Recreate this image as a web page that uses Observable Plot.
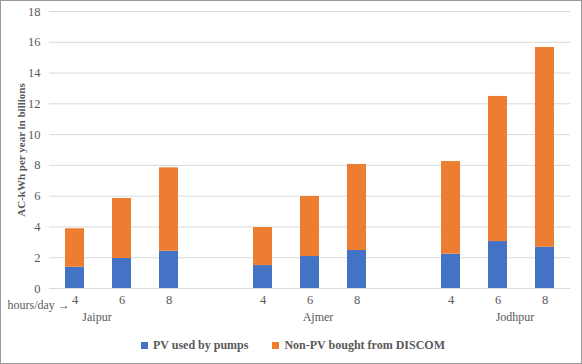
<!DOCTYPE html>
<html>
<head>
<meta charset="utf-8">
<script src="https://cdn.jsdelivr.net/npm/d3@7"></script>
<script src="https://cdn.jsdelivr.net/npm/@observablehq/plot@0.6"></script>
<style>
  html, body { margin: 0; padding: 0; background: #fff; }
  #wrap { position: relative; width: 582px; height: 364px; overflow: hidden; font-family: 'Liberation Serif', 'DejaVu Serif', serif; }
  #wrap svg, #wrap svg text { font-family: 'Liberation Serif', 'DejaVu Serif', serif !important; }
  #chart { position: absolute; left: 0; top: 0; }
  #legend { position: absolute; left: 0; width: 582px; top: 338px; display: flex; justify-content: center; align-items: center; font-size: 12px; font-weight: bold; color: #595959; padding-left: 4px; box-sizing: border-box; }
  #legend .item { display: flex; align-items: center; margin: 0 12px; }
  #legend .sw { width: 7px; height: 7px; margin-right: 5px; }
  #frame { position: absolute; inset: 0; border: 1px solid #9a9a9a; pointer-events: none; }
</style>
</head>
<body>
<div id="wrap">
  <div id="chart"></div>
  <div id="legend"></div>
  <div id="frame"></div>
</div>
<script>
// ---- data ----
const cities = ["Jaipur", "Ajmer", "Jodhpur"];
const hours = [4, 6, 8];
const seriesNames = ["PV used by pumps", "Non-PV bought from DISCOM"];
const seriesColors = ["#4472C4", "#ED7D31"];
// values per city, per hours (4, 6, 8), billions of AC-kWh per year
const pvUsed = [1.38, 1.95, 2.42, 1.49, 2.08, 2.47, 2.23, 3.05, 2.68];
const nonPV  = [2.50, 3.90, 5.42, 2.47, 3.90, 5.59, 6.02, 9.43, 12.98];
const yTicks = [0, 2, 4, 6, 8, 10, 12, 14, 16, 18];
const yLabel = "AC-kWh per year in billions";
const xNote = "hours/day \u2192";

// ---- build table ----
const keys = [];
cities.forEach((c, ci) => {
  hours.forEach(h => keys.push(c + "-" + h));
  if (ci < cities.length - 1) keys.push("gap" + ci);
});
const rows = [];
cities.forEach((c, ci) => hours.forEach((h, hi) => {
  rows.push({key: c + "-" + h, series: seriesNames[0], value: pvUsed[ci * 3 + hi]});
}));
cities.forEach((c, ci) => hours.forEach((h, hi) => {
  rows.push({key: c + "-" + h, series: seriesNames[1], value: nonPV[ci * 3 + hi]});
}));

const textColor = "#595959";
const groupOffsets = [-25, 8, 17];
const ff = "'Liberation Serif', 'DejaVu Serif', serif";
const yMid = (yTicks[0] + yTicks[yTicks.length - 1]) / 2;

const plot = Plot.plot({
  width: 582,
  height: 330,
  marginLeft: 49,
  marginRight: 12,
  marginTop: 11,
  marginBottom: 42,
  style: {fontFamily: ff, fontSize: "12px", color: textColor, background: "transparent", overflow: "visible"},
  x: {domain: keys, paddingInner: 0.59, paddingOuter: 0.295, label: null},
  y: {domain: [0, 18], label: null},
  color: {domain: seriesNames, range: seriesColors},
  marks: [
    Plot.gridY(yTicks, {stroke: "#d9d9d9", strokeOpacity: 1, strokeWidth: 1}),
    Plot.barY(rows, {x: "key", y: "value", fill: "series"}),
    Plot.axisY(yTicks, {tickSize: 0, tickPadding: 9, label: null, fill: textColor, fontSize: 12.5}),
    Plot.axisX({tickSize: 0, tickPadding: 7, label: null, fill: textColor, fontSize: 12.5,
      tickFormat: k => k.startsWith("gap") ? "" : k.split("-")[1]}),
    ...cities.map((c, i) => Plot.text([c], {x: () => c + "-6", y: () => 0, text: d => d, dy: 29, dx: groupOffsets[i], fill: textColor, fontSize: 12})),
    Plot.text([xNote], {frameAnchor: "bottom-left", dx: -42, dy: 20, textAnchor: "start", fill: textColor, fontSize: 12}),
    Plot.text([yLabel], {frameAnchor: "left", y: () => yMid, rotate: -90, dx: -28, textAnchor: "middle", fill: textColor, fontSize: 11, fontWeight: "bold"})
  ]
});
document.getElementById("chart").appendChild(plot);

// legend
const legend = document.getElementById("legend");
seriesNames.forEach((n, i) => {
  const item = document.createElement("div");
  item.className = "item";
  const sw = document.createElement("div");
  sw.className = "sw";
  sw.style.background = seriesColors[i];
  const t = document.createElement("span");
  t.textContent = n;
  item.appendChild(sw); item.appendChild(t);
  legend.appendChild(item);
});
</script>
</body>
</html>
